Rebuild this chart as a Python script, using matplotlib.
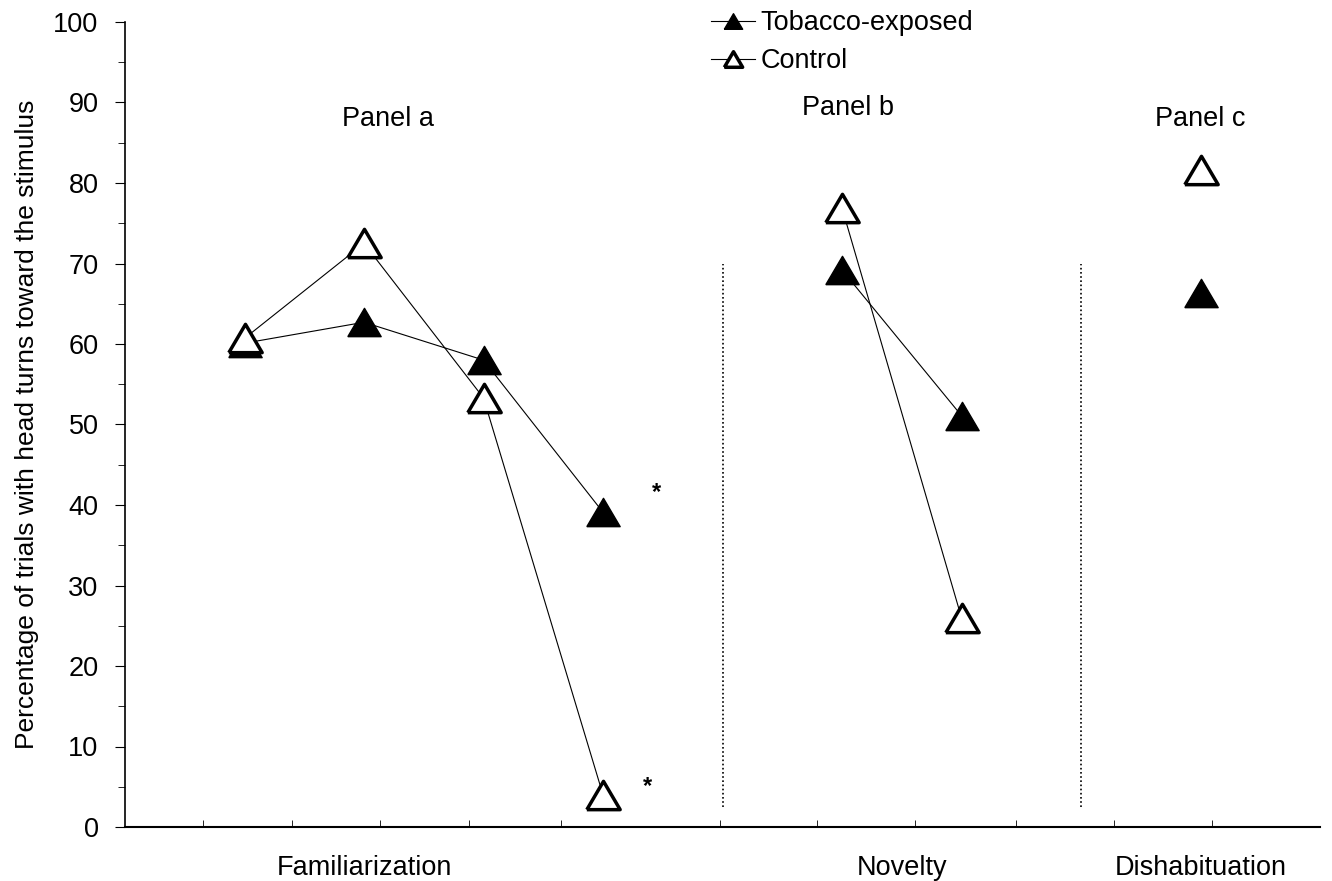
import matplotlib
matplotlib.use("Agg")
import matplotlib.pyplot as plt
import numpy as np

plt.rcParams['font.family'] = ['Liberation Sans', 'DejaVu Sans']

# trial positions: 1-4 familiarization, 6-7 novelty, 9 dishabituation
fam_x = [1, 2, 3, 4]
nov_x = [6, 7]
dis_x = [9]

tob_fam = [60.1, 62.7, 58.0, 39.1]
tob_nov = [69.2, 51.1]
tob_dis = [66.3]

ctl_fam = [60.7, 72.5, 53.3, 4.0]
ctl_nov = [76.9, 26.0]
ctl_dis = [81.6]

phase_names = ["Familiarization", "Novelty", "Dishabituation"]
phase_pos = [2, 6.5, 9]
panel_names = ["Panel a", "Panel b", "Panel c"]
panel_pos = [(2.2, 88.0), (6.05, 89.3), (9.0, 88.0)]
separators = [5, 8]
stars = [(4.45, 41.5), (4.37, 5.0)]

# wider-than-tall triangle like the original
tri = [(-1, -0.85), (1, -0.85), (0, 0.85), (-1, -0.85)]

fig = plt.figure(figsize=(13.32, 8.81), dpi=100)
ax = fig.add_axes([125/1332, 1-827/881, 1195/1332, 805/881])

tob_style = dict(color='black', lw=0.8, marker=tri, markersize=24,
                 markerfacecolor='black', markeredgecolor='black', markeredgewidth=1)
ctl_style = dict(color='black', lw=0.8, marker=tri, markersize=24,
                 markerfacecolor='white', markeredgecolor='black', markeredgewidth=2.5)

ax.plot(fam_x, tob_fam, label='Tobacco-exposed', **tob_style)
ax.plot(nov_x, tob_nov, **tob_style)
ax.plot(dis_x, tob_dis, **tob_style)
ax.plot(fam_x, ctl_fam, label='Control', **ctl_style)
ax.plot(nov_x, ctl_nov, **ctl_style)
ax.plot(dis_x, ctl_dis, **ctl_style)

for s in separators:
    ax.vlines(s, 2.5, 70, colors='black', linestyles=(0, (1, 1.5)), lw=1.2)

for (sx, sy) in stars:
    ax.text(sx, sy, '*', fontsize=17, fontweight='bold', ha='center', va='center')

for name, (px, py) in zip(panel_names, panel_pos):
    ax.text(px, py, name, fontsize=19.5, ha='center', va='center')

ax.set_xlim(0, 10)
ax.set_ylim(0, 100)
ax.set_yticks(np.arange(0, 101, 10))
ax.set_yticks(np.arange(5, 100, 10), minor=True)
ax.set_xticks(phase_pos)
ax.set_xticklabels(phase_names, fontsize=19.5)
ax.set_xticks([0.65, 1.4, 2.13, 2.88, 3.65, 4.98, 5.79, 6.61, 7.46, 8.28, 9.1], minor=True)
ax.tick_params(axis='x', which='major', length=0, pad=20)
ax.tick_params(axis='x', which='minor', direction='in', length=5)
ax.tick_params(axis='y', which='major', length=7, labelsize=19.5, pad=12)
ax.tick_params(axis='y', which='minor', length=5)
ax.spines['top'].set_visible(False)
ax.spines['right'].set_visible(False)
ax.spines['left'].set_linewidth(1.2)
ax.spines['bottom'].set_linewidth(1.5)

ax.set_ylabel('Percentage of trials with head turns toward the stimulus', fontsize=19, labelpad=10)

ax.legend(loc='upper left', bbox_to_anchor=(562/1195, 1.045), frameon=False, fontsize=19.5,
          markerscale=0.55, handlelength=1.6, handletextpad=0.2, labelspacing=0.45)

fig.savefig('out.png', dpi=100)
